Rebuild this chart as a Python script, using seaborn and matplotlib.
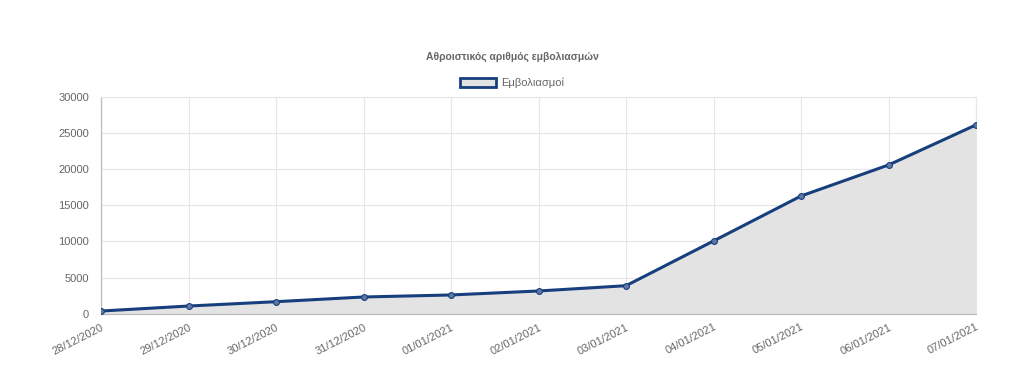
import pandas as pd
import matplotlib
matplotlib.use("Agg")
import matplotlib.pyplot as plt
from matplotlib.patches import Patch
import seaborn as sns

# Data
dates = ["28/12/2020", "29/12/2020", "30/12/2020", "31/12/2020", "01/01/2021",
         "02/01/2021", "03/01/2021", "04/01/2021", "05/01/2021", "06/01/2021",
         "07/01/2021"]
vaccinations = [370, 1060, 1660, 2310, 2590, 3140, 3870, 10050, 16270, 20560, 26100]

df = pd.DataFrame({"pos": range(len(dates)), "Date": dates, "Εμβολιασμοί": vaccinations})

sns.set_style("white")
plt.rcParams["font.family"] = ["Liberation Sans", "DejaVu Sans"]

line_color = "#173f7d"
fill_color = "#e3e3e3"
text_color = "#666666"

fig = plt.figure(figsize=(10.24, 3.71), dpi=100)
ax = fig.add_axes([101 / 1024, 1 - 313.7 / 371, 875 / 1024, 217 / 371])

ax.fill_between(df["pos"], df["Εμβολιασμοί"], 0, color=fill_color, zorder=1)
sns.lineplot(data=df, x="pos", y="Εμβολιασμοί", ax=ax, color=line_color, linewidth=2.2,
             marker="o", markersize=4.2, markerfacecolor="#5f7aa2",
             markeredgecolor=line_color, markeredgewidth=0.8, zorder=3)

ax.set_xlim(0, len(dates) - 1)
ax.set_ylim(0, 30000)
ax.set_yticks(range(0, 30001, 5000))
ax.set_xticks(df["pos"])
ax.set_xticklabels(dates, rotation=27, ha="right", rotation_mode="anchor")
ax.tick_params(axis="both", colors="#bbbbbb", labelcolor=text_color, labelsize=8,
               length=5, width=0.8, direction="out")
ax.tick_params(axis="x", pad=1)
ax.grid(True, color="#e6e6e6", linewidth=0.8, zorder=0)
ax.set_axisbelow(True)
ax.set_xlabel("")
ax.set_ylabel("")

for side in ["top", "right"]:
    ax.spines[side].set_color("#e6e6e6")
    ax.spines[side].set_linewidth(0.8)
for side in ["left", "bottom"]:
    ax.spines[side].set_color("#bbbbbb")
    ax.spines[side].set_linewidth(0.9)

fig.text(0.5, 1 - 57 / 371, "Αθροιστικός αριθμός εμβολιασμών", ha="center", va="center",
         fontsize=7.5, fontweight="bold", color=text_color)

handle = Patch(facecolor=fill_color, edgecolor=line_color, linewidth=2, label="Εμβολιασμοί")
fig.legend(handles=[handle], loc="center", bbox_to_anchor=(0.5, 1 - 83 / 371), frameon=False,
           fontsize=8, labelcolor=text_color, handlelength=3.2, handleheight=0.9,
           handletextpad=0.5)

fig.savefig("out.png", dpi=100)
